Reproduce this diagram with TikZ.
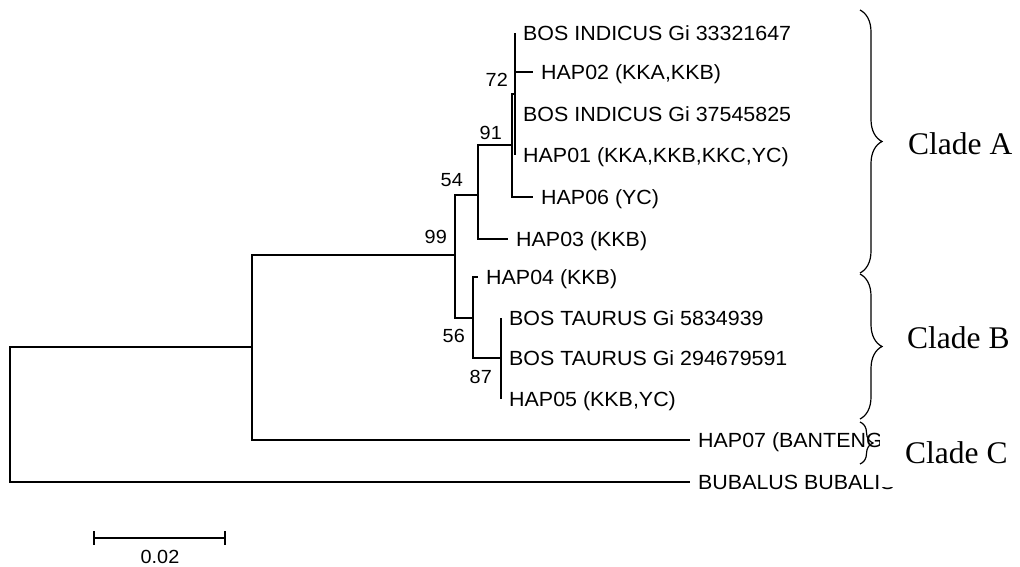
\documentclass[tikz,border=0pt]{standalone}
\usepackage{fontspec}
\usetikzlibrary{decorations.pathreplacing}
\newfontfamily\tipfont[FakeStretch=1.045]{Liberation Sans}
\newfontfamily\cladefont{Liberation Serif}

\begin{document}
\begin{tikzpicture}[
    x=1pt, y=-1pt,
    branch/.style={line width=1.3pt},
    tip/.style={anchor=west, inner xsep=8pt, inner ysep=0pt, text height=14.7pt, text depth=0pt, font=\tipfont\fontsize{20.5}{23}\selectfont},
    boot/.style={anchor=east, inner sep=0pt, font=\tipfont\fontsize{19}{22}\selectfont},
    clade/.style={anchor=base west, inner sep=0pt, font=\cladefont\fontsize{31.5}{36}\selectfont},
    cladebrace/.style={decorate, decoration={brace, amplitude=#1}, line width=1.2pt}
]
\useasboundingbox (0,0) rectangle (1020,567);

% internal nodes of the tree
\coordinate (root) at (10,415);
\coordinate (nbig) at (252,347);
\coordinate (n99) at (455,255);
\coordinate (n54) at (478,195);
\coordinate (n91) at (512,145);
\coordinate (n72) at (515,94);
\coordinate (n56) at (473,318);
\coordinate (n87) at (501,358);

% leaves
\node[tip] (tBi1) at (515,33) {BOS INDICUS Gi 33321647};
\node[tip] (tHap2) at (533,72) {HAP02 (KKA,KKB)};
\node[tip] (tBi2) at (515,114) {BOS INDICUS Gi 37545825};
\node[tip] (tHap1) at (515,155) {HAP01 (KKA,KKB,KKC,YC)};
\node[tip] (tHap6) at (533,197) {HAP06 (YC)};
\node[tip] (tHap3) at (508,239) {HAP03 (KKB)};
\node[tip] (tHap4) at (478,277) {HAP04 (KKB)};
\node[tip] (tBt1) at (501,318) {BOS TAURUS Gi 5834939};
\node[tip] (tBt2) at (501,358) {BOS TAURUS Gi 294679591};
\node[tip] (tHap5) at (501,399) {HAP05 (KKB,YC)};
\node[tip] (tHap7) at (690,440) {HAP07 (BANTENG)};
\node[tip] (tBub) at (690,482) {BUBALUS BUBALIS};

% branches
\draw[branch] (root) |- (nbig);
\draw[branch] (root) |- (tBub.west);
\draw[branch] (nbig) |- (n99);
\draw[branch] (nbig) |- (tHap7.west);
\draw[branch] (n99) |- (n54);
\draw[branch] (n99) |- (n56);
\draw[branch] (n54) |- (n91);
\draw[branch] (n54) |- (tHap3.west);
\draw[branch] (n91) |- (n72);
\draw[branch] (n91) |- (tHap6.west);
\foreach \t in {tBi1,tHap2,tBi2,tHap1}
    \draw[branch] (n72) |- (\t.west);
\draw[branch] (n56) |- (tHap4.west);
\draw[branch] (n56) |- (n87);
\foreach \t in {tBt1,tBt2,tHap5}
    \draw[branch] (n87) |- (\t.west);

% bootstrap values
\node[boot] (b72) at ([shift={(-7,-14)}]n72) {72};
\node[boot] (b91) at ([shift={(-10,-12)}]n91) {91};
\node[boot] (b54) at ([shift={(-15,-15)}]n54) {54};
\node[boot] (b99) at ([shift={(-8,-18)}]n99) {99};
\node[boot] (b56) at ([shift={(-8,18)}]n56) {56};
\node[boot] (b87) at ([shift={(-9,19)}]n87) {87};

% scale bar
\coordinate (sbL) at (94,538);
\coordinate (sbR) at (225,538);
\draw[branch] (sbL) -- (sbR);
\draw[branch] ([yshift=7pt]sbL) -- ([yshift=-7pt]sbL);
\draw[branch] ([yshift=7pt]sbR) -- ([yshift=-7pt]sbR);
\node[boot, anchor=center] (sbLabel) at (160,557) {0.02};

% clades
\fill[white] (880,424) rectangle (1020,487);
\node[clade] (cladeA) at (908,155) {Clade A};
\node[clade] (cladeB) at (907,348) {Clade B};
\node[clade] (cladeC) at (905,463) {Clade C};
\draw[cladebrace=22pt] (860,10) -- (860,273);
\draw[cladebrace=22pt] (860,274) -- (860,419);
\draw[cladebrace=13pt] (860,422) -- (860,464);
\end{tikzpicture}
\end{document}
